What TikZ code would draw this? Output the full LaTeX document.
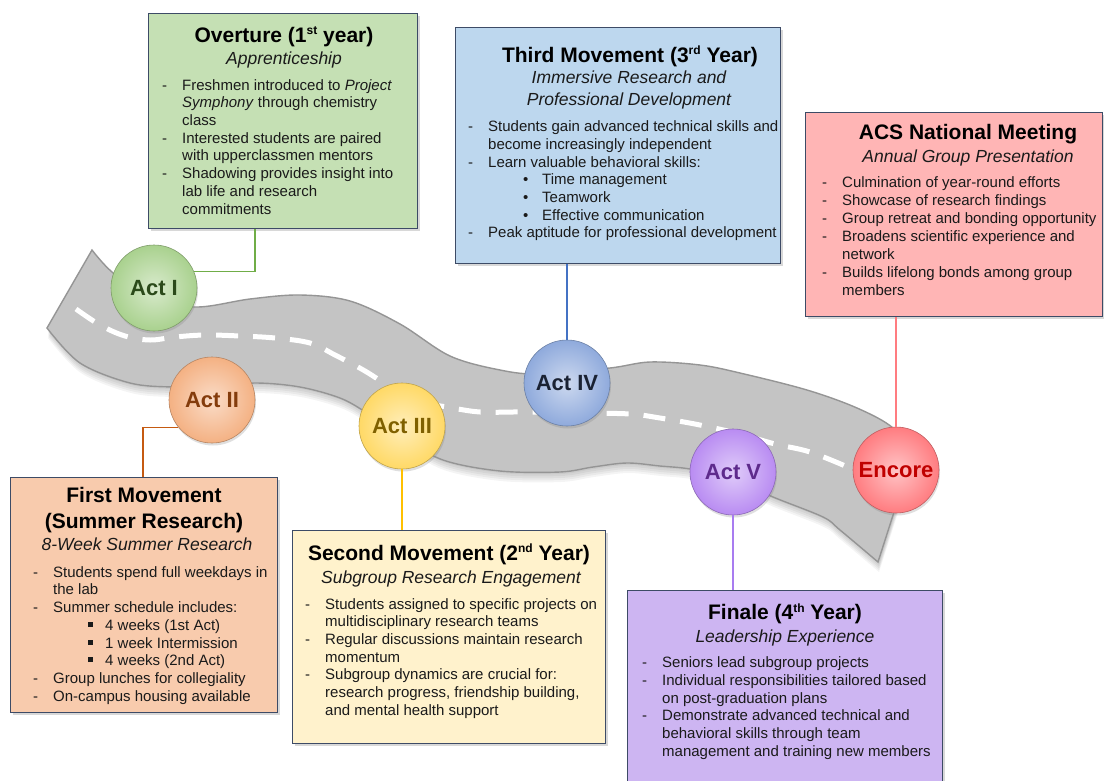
\documentclass[tikz,border=0pt]{standalone}
\usepackage{fontspec}
\setmainfont{Liberation Sans}
\usetikzlibrary{shadows}
\definecolor{roadgray}{HTML}{C4C4C4}
\definecolor{roadedge}{HTML}{959595}
\definecolor{boxedge}{HTML}{3D4B66}
\definecolor{txt}{HTML}{1A1A1A}
\definecolor{ovfill}{HTML}{C5E0B4}
\definecolor{tmfill}{HTML}{BDD7EE}
\definecolor{acsfill}{HTML}{FFB5B5}
\definecolor{fmfill}{HTML}{F8CBAD}
\definecolor{smfill}{HTML}{FFF2CC}
\definecolor{fnfill}{HTML}{CDB5F2}
\definecolor{cA}{HTML}{A9D18E}\definecolor{tA}{HTML}{2B4A1A}\definecolor{lA}{HTML}{70AD47}
\definecolor{cB}{HTML}{F4B183}\definecolor{tB}{HTML}{843C0C}\definecolor{lB}{HTML}{C55A11}
\definecolor{cC}{HTML}{FFD966}\definecolor{tC}{HTML}{7F6000}\definecolor{lC}{HTML}{FFC000}
\definecolor{cD}{HTML}{8FAADC}\definecolor{tD}{HTML}{1A2233}\definecolor{lD}{HTML}{4472C4}
\definecolor{cE}{HTML}{B98CF2}\definecolor{tE}{HTML}{5E2A8C}\definecolor{lE}{HTML}{A87CF0}
\definecolor{cF}{HTML}{FF7C80}\definecolor{tF}{HTML}{C00000}\definecolor{lF}{HTML}{FF7C80}
\newcommand{\bodyfont}{\fontsize{15}{17.7}\selectfont}
\newcommand{\acsfont}{\fontsize{15}{17.9}\selectfont}
\newcommand{\titlefont}{\fontsize{21}{25}\selectfont\bfseries}
\newcommand{\subfont}{\fontsize{17.5}{22}\selectfont\itshape}
\newcommand{\actfont}{\fontsize{22}{26}\selectfont\bfseries}
\newcommand{\sups}[1]{\raisebox{7.5pt}{\fontsize{12}{12}\selectfont #1}}
\newcommand{\dsh}{\makebox[20pt][l]{-}}
\newcommand{\ind}{\hspace*{20pt}}
\newcommand{\sbul}{\hspace*{55pt}\makebox[19pt][l]{•}}
\newcommand{\sqbul}{\hspace*{55pt}\makebox[17pt][l]{\raisebox{3.5pt}{\rule{5pt}{5pt}}}}
\newcommand{\roadshape}[1]{%
\path[#1] plot[smooth, tension=0.55] coordinates {(92,250) (112,272) (150,299) (197,307) (250,299) (300,295) (350,301) (400,324) (450,356) (500,370) (540,374) (610,368) (650,362) (700,365) (740,373) (807,390) (857,408) (893,428) (912,456)} -- plot[smooth, tension=0.55] coordinates {(878,562) (840,530) (823,517) (773,497) (730,478) (690,469) (660,466) (627,463) (593,467) (560,472) (500,471) (443,460) (400,436) (367,413) (340,398) (300,387) (257,383) (215,386) (173,387) (130,383) (80,363) (47,328)} -- cycle;}
\tikzset{
  box/.style={rectangle, draw=boxedge, line width=1.1pt, inner sep=0pt, anchor=north west,
    drop shadow={opacity=0.3, shadow xshift=2pt, shadow yshift=-2pt}},
  ttl/.style={anchor=base, inner sep=0pt, font=\titlefont, text=black},
  subt/.style={anchor=base, inner sep=0pt, font=\subfont, text=txt},
  body/.style={anchor=north west, inner sep=0pt, align=left, font=\bodyfont, text=txt},
  act/.style={circle, minimum size=86pt, inner sep=0pt, font=\actfont, draw=#1!75!black,
    line width=0.6pt, inner color=#1!45!white, outer color=#1,
    drop shadow={opacity=0.25, shadow xshift=1pt, shadow yshift=-2.5pt}},
  conn/.style={line width=1.2pt}
}
\begin{document}
\begin{tikzpicture}[x=1pt, y=-1pt]
\useasboundingbox (0,0) rectangle (1104,780);
\clip (0,0) rectangle (1104,780);
\fill[white] (0,0) rectangle (1104,780);
% road
\foreach \s in {2,4,6,8,10}{\roadshape{fill=black, opacity=0.045, shift={(1,\s)}}}
\roadshape{fill=roadgray, draw=roadedge, line width=1.4pt}
\draw[white, line width=5pt, dash pattern=on 22pt off 15pt] plot[smooth, tension=0.6] coordinates {(76,309) (100,325) (125,336) (150,340) (175,337) (205,335) (240,336) (275,338) (310,343) (335,355) (365,371) (395,390) (420,402) (447,407) (480,412) (520,412) (580,413) (630,414) (660,418) (700,425) (740,434) (775,444) (810,452) (850,468)};
% boxes
\node[box, fill=ovfill, minimum width=269pt, minimum height=215pt] (ovbox) at (148,13) {};
\node[box, fill=tmfill, minimum width=325pt, minimum height=236pt] (tmbox) at (455,27) {};
\node[box, fill=acsfill, minimum width=297pt, minimum height=204pt] (acsbox) at (805,112) {};
\node[box, fill=fmfill, minimum width=267pt, minimum height=235pt] (fmbox) at (10,477) {};
\node[box, fill=smfill, minimum width=313pt, minimum height=213pt] (smbox) at (292,530) {};
\node[box, fill=fnfill, minimum width=315pt, minimum height=210pt] (fnbox) at (627,590) {};
% circles
\node[act=cA, text=tA] (act1) at (154,288) {Act I};
\node[act=cB, text=tB] (act2) at (212,400) {Act II};
\node[act=cC, text=tC] (act3) at (402,426) {Act III};
\node[act=cD, text=tD] (act4) at (567,383) {Act IV};
\node[act=cE, text=tE] (act5) at (733,472) {Act V};
\node[act=cF, text=tF] (enc) at (896,470) {Encore};
% connectors
\draw[conn, lA] (act1.22) -| (ovbox.south -| 255,0);
\draw[conn, lB] (act2.219) -| (fmbox.north -| 143,0);
\draw[conn, lC] (act3.south) -- (act3.south |- smbox.north);
\draw[conn, lD] (act4.north) -- (act4.north |- tmbox.south);
\draw[conn, lE] (act5.south) -- (act5.south |- fnbox.north);
\draw[conn, lF] (enc.north) -- (enc.north |- acsbox.south);
% Overture
\node[ttl] (ovtitle) at (284,42.3) {Overture (1\sups{st} year)};
\node[subt] (ovsub) at (284,64.3) {Apprenticeship};
\node[body] (ovtxt) at (162,77.6) {\strut\dsh Freshmen introduced to \textit{Project}\\
\ind\textit{Symphony} through chemistry\\
\ind class\\
\dsh Interested students are paired\\
\ind with upperclassmen mentors\\
\dsh Shadowing provides insight into\\
\ind lab life and research\\
\ind commitments};
% Third Movement
\node[ttl] (tmtitle) at (630,62) {Third Movement (3\sups{rd} Year)};
\node[subt] (tmsubA) at (629,83) {Immersive Research and};
\node[subt] (tmsubB) at (629,105) {Professional Development};
\node[body] (tmtxt) at (468,119.1) {\strut\dsh Students gain advanced technical skills and\\
\ind become increasingly independent\\
\dsh Learn valuable behavioral skills:\\
\sbul Time management\\
\sbul Teamwork\\
\sbul Effective communication\\
\dsh Peak aptitude for professional development};
% ACS
\node[ttl] (acstitle) at (968,139.5) {ACS National Meeting};
\node[subt] (acssub) at (968,162) {Annual Group Presentation};
\node[body, font=\acsfont] (acstxt) at (822,175.1) {\strut\dsh Culmination of year-round efforts\\
\dsh Showcase of research findings\\
\dsh Group retreat and bonding opportunity\\
\dsh Broadens scientific experience and\\
\ind network\\
\dsh Builds lifelong bonds among group\\
\ind members};
% First Movement
\node[ttl] (fmtitleA) at (144,502) {First Movement};
\node[ttl] (fmtitleB) at (144,528) {(Summer Research)};
\node[subt] (fmsub) at (147,550) {8-Week Summer Research};
\node[body] (fmtxt) at (33,564.6) {\strut\dsh Students spend full weekdays in\\
\ind the lab\\
\dsh Summer schedule includes:\\
\sqbul 4 weeks (1st Act)\\
\sqbul 1 week Intermission\\
\sqbul 4 weeks (2nd Act)\\
\dsh Group lunches for collegiality\\
\dsh On-campus housing available};
% Second Movement
\node[ttl] (smtitle) at (449,560) {Second Movement (2\sups{nd} Year)};
\node[subt] (smsub) at (451,583) {Subgroup Research Engagement};
\node[body] (smtxt) at (305,596.6) {\strut\dsh Students assigned to specific projects on\\
\ind multidisciplinary research teams\\
\dsh Regular discussions maintain research\\
\ind momentum\\
\dsh Subgroup dynamics are crucial for:\\
\ind research progress, friendship building,\\
\ind and mental health support};
% Finale
\node[ttl] (fntitle) at (785,619.5) {Finale (4\sups{th} Year)};
\node[subt] (fnsub) at (785,642) {Leadership Experience};
\node[body] (fntxt) at (642,655.1) {\strut\dsh Seniors lead subgroup projects\\
\dsh Individual responsibilities tailored based\\
\ind on post-graduation plans\\
\dsh Demonstrate advanced technical and\\
\ind behavioral skills through team\\
\ind management and training new members};
\end{tikzpicture}
\end{document}
